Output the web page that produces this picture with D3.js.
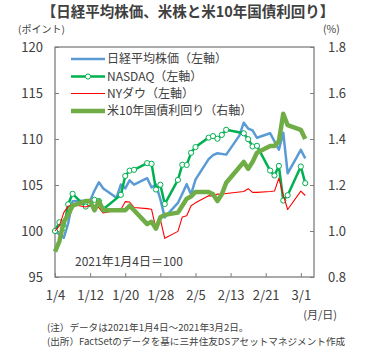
<!DOCTYPE html>
<html><head><meta charset="utf-8">
<script src="https://cdn.jsdelivr.net/npm/d3@7"></script>
<style>
body{margin:0;background:#fff}
svg{display:block}
text{font-family:"Noto Sans CJK JP","Noto Sans",sans-serif;fill:#404040}
</style>
</head><body>
<svg id="c" width="374" height="354"></svg>
<script>
// ---- data ----
const usDates = ["2021-01-04","2021-01-05","2021-01-06","2021-01-07","2021-01-08",
  "2021-01-11","2021-01-12","2021-01-13","2021-01-14","2021-01-15",
  "2021-01-19","2021-01-20","2021-01-21","2021-01-22",
  "2021-01-25","2021-01-26","2021-01-27","2021-01-28","2021-01-29",
  "2021-02-01","2021-02-02","2021-02-03","2021-02-04","2021-02-05",
  "2021-02-08","2021-02-09","2021-02-10","2021-02-11","2021-02-12",
  "2021-02-16","2021-02-17","2021-02-18","2021-02-19",
  "2021-02-22","2021-02-23","2021-02-24","2021-02-25","2021-02-26",
  "2021-03-01","2021-03-02"];
const jpDates = ["2021-01-04","2021-01-05","2021-01-06","2021-01-07","2021-01-08",
  "2021-01-12","2021-01-13","2021-01-14","2021-01-15",
  "2021-01-18","2021-01-19","2021-01-20","2021-01-21","2021-01-22",
  "2021-01-25","2021-01-26","2021-01-27","2021-01-28","2021-01-29",
  "2021-02-01","2021-02-02","2021-02-03","2021-02-04","2021-02-05",
  "2021-02-08","2021-02-09","2021-02-10","2021-02-12",
  "2021-02-15","2021-02-16","2021-02-17","2021-02-18","2021-02-19",
  "2021-02-22","2021-02-24","2021-02-25","2021-02-26",
  "2021-03-01","2021-03-02"];
const nikkei = [100,99.63,99.26,100.85,103.23,
  103.32,104.40,105.29,104.63,
  103.61,105.05,104.64,105.50,105.04,
  105.74,104.73,105.05,103.45,101.48,
  103.05,104.05,105.09,103.98,105.58,
  107.82,108.25,108.45,108.30,
  110.37,111.77,111.13,110.93,110.13,
  110.63,108.85,110.68,106.27,
  108.82,107.89];
const nasdaq = [100,100.95,100.33,102.90,104.04,
  102.66,102.94,103.39,103.26,102.36,
  103.93,105.98,106.56,106.65,
  107.38,107.31,104.51,105.03,102.93,
  105.55,107.20,107.18,108.50,109.12,
  110.15,110.31,110.03,110.45,111.00,
  110.62,109.98,109.19,109.26,
  106.57,106.03,107.08,103.31,103.89,
  107.01,105.20];
const dow = [100,100.55,102.00,102.70,102.89,
  102.60,102.79,102.77,102.54,101.95,
  102.34,103.19,103.15,102.56,
  102.43,102.36,100.26,101.26,99.20,
  99.96,101.53,101.65,102.75,103.06,
  103.84,103.81,104.02,103.99,104.08,
  104.30,104.60,104.20,104.20,
  104.29,104.34,105.75,103.90,102.34,
  104.34,103.86];
const yield10 = [0.91,0.955,1.04,1.07,1.11,
  1.13,1.13,1.09,1.13,1.09,
  1.09,1.09,1.11,1.09,
  1.03,1.04,1.01,1.06,1.07,
  1.08,1.11,1.14,1.15,1.17,
  1.17,1.16,1.13,1.16,1.21,
  1.30,1.27,1.30,1.34,
  1.37,1.37,1.39,1.51,1.46,
  1.44,1.40];
const leftTicks = [95,100,105,110,115,120];
const rightTicks = [0.8,1.0,1.2,1.4,1.6,1.8];
const xTickDates = ["2021-01-04","2021-01-12","2021-01-20","2021-01-28","2021-02-05","2021-02-13","2021-02-21","2021-03-01"];
const xTickLabels = ["1/4","1/12","1/20","1/28","2/5","2/13","2/21","3/1"];
const seriesNames = ["日経平均株価（左軸）","NASDAQ（左軸）","NYダウ（左軸）","米10年国債利回り（右軸）"];
const titleText = "【日経平均株価、米株と米10年国債利回り】";
const baseNote = "2021年1月4日＝100";
const notes = ["(注）データは2021年1月4日～2021年3月2日。","(出所）FactSetのデータを基に三井住友DSアセットマネジメント作成"];

// ---- chart ----
const parse = d3.timeParse("%Y-%m-%d");
const svg = d3.select("#c");
const L = 55, R = 314, T = 47, B = 277;
const frameCol = "#7f7f7f";

const x = d3.scaleTime().domain([parse("2021-01-04"), parse("2021-03-04")]).range([L, R]);
const yL = d3.scaleLinear().domain([95, 120]).range([B, T]);
const yR = d3.scaleLinear().domain([0.8, 1.8]).range([B, T]);

// title
svg.append("text").attr("x", 188).attr("y", 17).attr("text-anchor", "middle")
  .style("font-size", "14.5px").style("font-weight", "bold").text(titleText);
svg.append("text").attr("x", 18).attr("y", 33).style("font-size", "10px").text("(ポイント)");
svg.append("text").attr("x", 323).attr("y", 33).style("font-size", "10.5px").text("(%)");

// axes
const axL = d3.axisLeft(yL).tickValues(leftTicks).tickSize(-4).tickPadding(12).tickFormat(d3.format("d"));
const axR = d3.axisRight(yR).tickValues(rightTicks).tickSize(-4).tickPadding(14).tickFormat(d3.format(".1f"));
const axB = d3.axisBottom(x).tickValues(xTickDates.map(parse)).tickSize(-4).tickPadding(14)
  .tickFormat((d, i) => xTickLabels[i]);

function style(g) {
  g.select(".domain").remove();
  g.selectAll(".tick line").attr("stroke", frameCol);
  g.selectAll(".tick text").style("font-size", "13px").style("fill", "#404040")
    .style("font-family", '"Noto Sans CJK JP","Noto Sans",sans-serif');
}
svg.append("g").attr("transform", `translate(${L},0)`).call(axL).call(style);
svg.append("g").attr("transform", `translate(${R},0)`).call(axR).call(style);
svg.append("g").attr("transform", `translate(0,${B})`).call(axB).call(style);

svg.append("rect").attr("x", L).attr("y", T).attr("width", R - L).attr("height", B - T)
  .attr("fill", "none").attr("stroke", frameCol).attr("stroke-width", 1.3);

// lines
const us = usDates.map(parse), jp = jpDates.map(parse);
const lineL = d3.line().x(d => x(d[0])).y(d => yL(d[1]));
const lineR = d3.line().x(d => x(d[0])).y(d => yR(d[1]));
const zip = (a, b) => a.map((d, i) => [d, b[i]]);

const colors = ["#5B9BD5", "#00B050", "#FF0000", "#70AD47"];
const widths = [2.5, 2.5, 1.1, 4.5];

svg.append("path").datum(zip(jp, nikkei)).attr("d", lineL)
  .attr("fill", "none").attr("stroke", colors[0]).attr("stroke-width", widths[0]).attr("stroke-linejoin", "round");
svg.append("path").datum(zip(us, nasdaq)).attr("d", lineL)
  .attr("fill", "none").attr("stroke", colors[1]).attr("stroke-width", widths[1]).attr("stroke-linejoin", "round");
svg.append("g").selectAll("circle").data(zip(us, nasdaq)).join("circle")
  .attr("cx", d => x(d[0])).attr("cy", d => yL(d[1])).attr("r", 2.6)
  .attr("fill", "#fff").attr("stroke", colors[1]).attr("stroke-width", 1);
svg.append("path").datum(zip(us, dow)).attr("d", lineL)
  .attr("fill", "none").attr("stroke", colors[2]).attr("stroke-width", widths[2]).attr("stroke-linejoin", "round");
svg.append("path").datum(zip(us, yield10)).attr("d", lineR)
  .attr("fill", "none").attr("stroke", colors[3]).attr("stroke-width", widths[3]).attr("stroke-linejoin", "round");

// legend
const legY = [59, 76.5, 93.5, 111];
seriesNames.forEach((n, i) => {
  svg.append("line").attr("x1", 71).attr("x2", 105).attr("y1", legY[i]).attr("y2", legY[i])
    .attr("stroke", colors[i]).attr("stroke-width", widths[i]);
  if (i === 1) svg.append("circle").attr("cx", 88).attr("cy", legY[i]).attr("r", 2.6)
    .attr("fill", "#fff").attr("stroke", colors[1]).attr("stroke-width", 1);
  svg.append("text").attr("x", 107).attr("y", legY[i]).attr("dy", "0.36em")
    .style("font-size", "12px").text(n);
});

svg.append("text").attr("x", 75).attr("y", 262).attr("dy", "0.36em").style("font-size", "12px").text(baseNote);
svg.append("text").attr("x", 337).attr("y", 315).attr("dy", "0.36em").attr("text-anchor", "end")
  .style("font-size", "11px").text("(月/日)");
notes.forEach((t, i) => svg.append("text").attr("x", 47).attr("y", 328 + i * 14).attr("dy", "0.36em")
  .style("font-size", "9.6px").text(t));
</script>
</body></html>
